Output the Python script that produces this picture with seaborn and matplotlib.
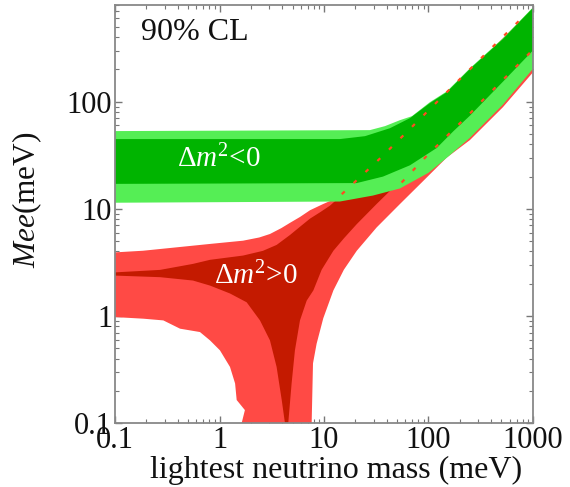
import numpy as np
import pandas as pd
import matplotlib
matplotlib.use("Agg")
import matplotlib.pyplot as plt
from matplotlib.ticker import FixedLocator, FixedFormatter, LogLocator, NullFormatter
import seaborn as sns

# ---------------- data (meV) ----------------
# Inverted hierarchy (green), outer (light) band
ih_outer_top_x = [0.1, 27.5, 38.4, 53.4, 69.5, 103, 150, 249, 516, 1000]
ih_outer_top_y = [53.2, 54.3, 59.2, 67.3, 73.3, 98.9, 125, 205, 390, 760]
ih_outer_bot_x = [0.1, 14.2, 29.4, 53.4, 100, 150, 249, 516, 1000]
ih_outer_bot_y = [11.4, 11.7, 13.3, 15.5, 21.7, 30.0, 46.0, 94.0, 203]
# Inverted hierarchy, inner (dark) band
ih_inner_top_x = [0.1, 14.2, 24.7, 42.8, 66.5, 103, 150, 249, 516, 1000]
ih_inner_top_y = [44.8, 44.8, 47.7, 56.6, 70.3, 97.0, 123, 202, 385, 750]
ih_inner_bot_x = [0.1, 20.6, 36.7, 66.5, 120, 173, 249, 520, 1000]
ih_inner_bot_y = [17.1, 17.4, 20.0, 25.5, 37.0, 53.0, 74.0, 155, 301]

# Normal hierarchy (red), outer (light) region
nh_outer_top_x = [0.1, 0.185, 0.389, 0.811, 1.68, 2.4, 3.04, 3.9, 4.73, 5.9, 7.35, 9.84, 14.8, 35.6, 83.0, 208, 483, 1000]
nh_outer_top_y = [3.92, 4.06, 4.37, 4.70, 5.04, 5.4, 5.82, 6.6, 7.4, 8.4, 9.7, 11.1, 13.2, 29.5, 67.0, 164, 368, 740]
nh_outer_right_x = [1000, 516, 249, 149, 89.1, 53.4, 31.9, 20.6, 15.5, 12.3, 9.84, 8.5, 7.85, 7.62, 7.6]
nh_outer_right_y = [188, 88.9, 43.8, 30.0, 18.2, 11.1, 6.70, 4.06, 2.7, 1.73, 0.95, 0.55, 0.361, 0.1, 0.05]
nh_outer_left_x = [1.63, 1.63, 1.75, 1.46, 1.41, 1.26, 1.01, 0.811, 0.650, 0.419, 0.290, 0.187, 0.1]
nh_outer_left_y = [0.05, 0.1, 0.132, 0.164, 0.234, 0.334, 0.477, 0.591, 0.707, 0.760, 0.908, 0.942, 0.975]

# Normal hierarchy, inner (dark) region
nh_inner_top_x = [0.1, 0.27, 0.557, 0.811, 1.68, 2.6, 3.52, 4.73, 6.0, 7.35, 9.2, 11.4, 30, 1000]
nh_inner_top_y = [2.55, 2.69, 3.06, 3.34, 3.66, 4.05, 4.6, 5.7, 6.9, 8.1, 9.3, 10.7, 25, 700]
nh_inner_right_x = [1000, 516, 250, 150, 100, 60, 42.8, 31.9, 20.6, 15.5, 12.3, 9.5, 7.91, 6.83, 5.89, 5.27, 4.90, 4.55, 4.4]
nh_inner_right_y = [225, 104, 52, 33.5, 24, 17.5, 14.7, 11.1, 7.2, 5.3, 4.06, 2.7, 1.73, 1.39, 0.908, 0.477, 0.235, 0.1, 0.05]
nh_inner_left_x = [4.23, 3.94, 3.52, 3.04, 2.44, 1.82, 1.26, 0.811, 0.557, 0.27, 0.1]
nh_inner_left_y = [0.1, 0.164, 0.334, 0.591, 0.908, 1.34, 1.62, 1.92, 2.14, 2.30, 2.38]

# Dotted boundary lines over the green band
dot_upper_x = [14.8, 35.6, 83.0, 208, 483, 871]
dot_upper_y = [13.7, 30.5, 69.2, 169, 379, 670]
dot_lower_x = [55.3, 95.9, 139, 244, 323, 1000]
dot_lower_y = [17.6, 31.1, 44.5, 76.0, 101, 306]

x_ticks = [0.1, 1, 10, 100, 1000]
x_tick_labels = ["0.1", "1", "10", "100", "1000"]
y_ticks = [0.1, 1, 10, 100]
y_tick_labels = ["0.1", "1", "10", "100"]

# ---------------- style ----------------
sns.set_theme(style="ticks")
plt.rcParams["font.family"] = ["Liberation Serif", "DejaVu Serif"]
plt.rcParams["mathtext.fontset"] = "custom"
plt.rcParams["mathtext.rm"] = "Liberation Serif"
plt.rcParams["mathtext.it"] = "Liberation Serif:italic"

LIGHT_GREEN = "#55ee55"
DARK_GREEN = "#00b400"
LIGHT_RED = "#ff4a45"
DARK_RED = "#c41a00"
DOT_RED = "#ff4a20"
TXT = "#111111"

fig = plt.figure(figsize=(5.7, 4.87), dpi=100)
ax = fig.add_axes([0.2018, 0.1314, 0.7332, 0.8583])
ax.set_xscale("log")
ax.set_yscale("log")

# red regions
ax.fill(nh_outer_top_x + nh_outer_right_x + nh_outer_left_x,
        nh_outer_top_y + nh_outer_right_y + nh_outer_left_y,
        color=LIGHT_RED, lw=0, zorder=1)
ax.fill(nh_inner_top_x + nh_inner_right_x + nh_inner_left_x,
        nh_inner_top_y + nh_inner_right_y + nh_inner_left_y,
        color=DARK_RED, lw=0, zorder=2)
# green regions
ax.fill(ih_outer_top_x + ih_outer_bot_x[::-1],
        ih_outer_top_y + ih_outer_bot_y[::-1],
        color=LIGHT_GREEN, lw=0, zorder=3)
ax.fill(ih_inner_top_x + ih_inner_bot_x[::-1],
        ih_inner_top_y + ih_inner_bot_y[::-1],
        color=DARK_GREEN, lw=0, zorder=4)

# dotted lines
dots = pd.concat([
    pd.DataFrame({"m": dot_upper_x, "mee": dot_upper_y, "edge": "upper"}),
    pd.DataFrame({"m": dot_lower_x, "mee": dot_lower_y, "edge": "lower"}),
])
for name, grp in dots.groupby("edge"):
    sns.lineplot(data=grp, x="m", y="mee", ax=ax, sort=False, color=DOT_RED,
                 lw=1.6, linestyle=(0, (1.8, 5.5)), estimator=None, zorder=5,
                 legend=False)

ax.set_xlim(0.1, 1000)
ax.set_ylim(0.1, 800)

ax.xaxis.set_major_locator(FixedLocator(x_ticks))
ax.xaxis.set_major_formatter(FixedFormatter(x_tick_labels))
ax.yaxis.set_major_locator(FixedLocator(y_ticks))
ax.yaxis.set_major_formatter(FixedFormatter(y_tick_labels))
ax.xaxis.set_minor_locator(LogLocator(base=10, subs=np.arange(2, 10), numticks=20))
ax.yaxis.set_minor_locator(LogLocator(base=10, subs=np.arange(2, 10), numticks=20))
ax.xaxis.set_minor_formatter(NullFormatter())
ax.yaxis.set_minor_formatter(NullFormatter())

ax.tick_params(which="both", direction="in", top=True, right=True,
               color="#777777", labelsize=22, labelcolor=TXT)
ax.tick_params(which="major", length=5, width=1)
ax.tick_params(which="minor", length=3, width=0.8)
ax.tick_params(axis="x", pad=2)
ax.tick_params(axis="y", pad=2)
for sp in ax.spines.values():
    sp.set_color("#888888")
    sp.set_linewidth(1.3)
    sp.set_zorder(10)

ax.set_xlabel("lightest neutrino mass (meV)", fontsize=23, color=TXT)
ax.set_ylabel(r"$Mee$(meV)", fontsize=22.5, color=TXT)
ax.xaxis.set_label_coords(0.528, -0.078)
ax.yaxis.set_label_coords(-0.17, 0.535)

ax.text(0.583, 443, "90% CL", fontsize=23, ha="center", va="center", color=TXT, zorder=6)
ax.text(0.99, 29.2, r"$\Delta m^{2}$<0", fontsize=21, ha="center", va="center", color="white", zorder=6)
ax.text(2.23, 2.38, r"$\Delta m^{2}$>0", fontsize=21, ha="center", va="center", color="white", zorder=6)

fig.savefig("out.png", dpi=100)
